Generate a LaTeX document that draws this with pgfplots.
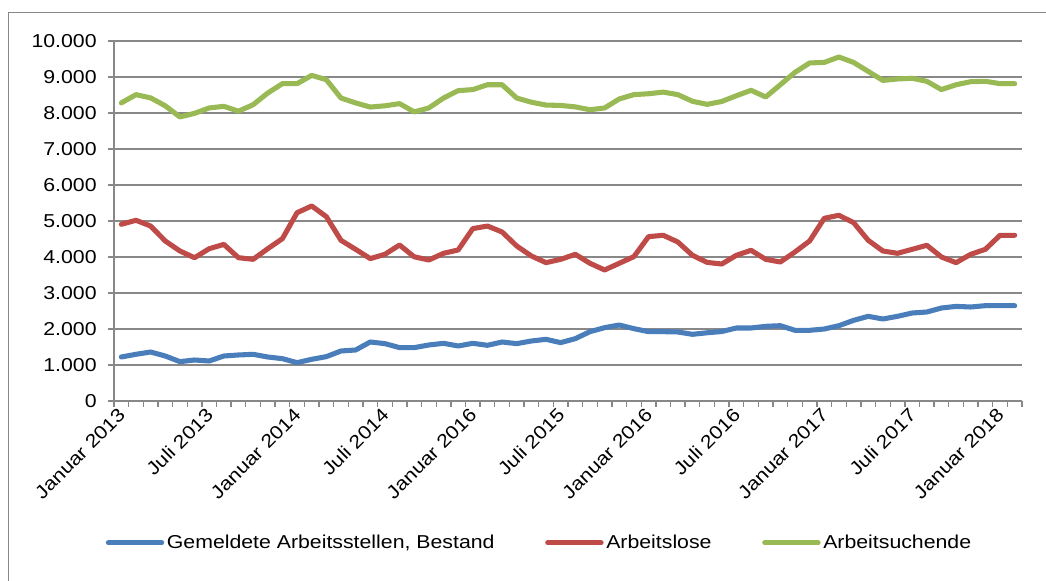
\documentclass[border=0pt]{standalone}
\usepackage{fontspec}
\setmainfont{Liberation Sans}[FakeStretch=1.14]
\usepackage{pgfplots}
\usepackage{pgfplotstable}
\pgfplotsset{compat=1.18}
\definecolor{cblue}{HTML}{4A7EBB}
\definecolor{cred}{HTML}{BE4B48}
\definecolor{cgreen}{HTML}{98B954}
\definecolor{cgrid}{HTML}{888888}
\pgfplotstableread{
i blue red green
0 1222 4908 8280
1 1297 5020 8510
2 1361 4860 8420
3 1250 4445 8200
4 1093 4167 7890
5 1139 3980 7990
6 1111 4230 8140
7 1250 4350 8185
8 1278 3980 8050
9 1297 3935 8230
10 1222 4230 8555
11 1176 4510 8815
12 1065 5230 8815
13 1158 5417 9045
14 1232 5120 8925
15 1389 4463 8415
16 1417 4213 8280
17 1639 3955 8165
18 1593 4075 8200
19 1482 4333 8260
20 1482 4005 8030
21 1556 3917 8140
22 1602 4102 8415
23 1528 4195 8620
24 1602 4788 8650
25 1547 4860 8785
26 1639 4695 8785
27 1593 4305 8415
28 1667 4028 8300
29 1713 3843 8220
30 1621 3935 8210
31 1732 4075 8170
32 1926 3825 8090
33 2037 3640 8140
34 2111 3825 8390
35 2009 4010 8510
36 1926 4565 8535
37 1926 4603 8580
38 1917 4417 8510
39 1852 4047 8325
40 1895 3850 8240
41 1930 3805 8320
42 2028 4047 8480
43 2028 4186 8630
44 2074 3935 8445
45 2092 3861 8785
46 1963 4140 9130
47 1963 4445 9390
48 2000 5075 9405
49 2092 5158 9555
50 2240 4955 9405
51 2352 4463 9155
52 2278 4167 8905
53 2352 4102 8945
54 2444 4213 8965
55 2472 4325 8880
56 2583 4000 8650
57 2628 3843 8785
58 2611 4075 8870
59 2648 4213 8880
60 2648 4603 8815
61 2648 4603 8815
}\datatable
\begin{document}
\begin{tikzpicture}
\useasboundingbox (0,0) rectangle (784.5pt,435.75pt);
\draw[cgrid, line width=1.1pt] (6.2pt,0pt) -- (6.2pt,426.2pt) -- (790pt,426.2pt);
\begin{axis}[
  at={(85.5pt,135pt)}, anchor=south west,
  scale only axis, width=681pt, height=270pt,
  xmin=-0.5, xmax=61.5, ymin=0, ymax=10000,
  axis x line*=bottom, axis y line*=left,
  axis line style={cgrid, line width=1.1pt},
  tick align=outside,
  major tick length=4.5pt,
  tick style={cgrid, line width=1pt},
  xtick={-0.5,0.5,...,61.5},
  xticklabel={\mbox{}},
  extra x ticks={0,6,...,60},
  extra x tick labels={Januar 2013,Juli 2013,Januar 2014,Juli 2014,Januar 2016,Juli 2015,Januar 2016,Juli 2016,Januar 2017,Juli 2017,Januar 2018},
  extra x tick style={major tick length=0pt, xticklabel style={xshift=0.5pt, yshift=-8pt, rotate=45, anchor=east, inner sep=0pt}},
  ytick={0,1000,...,10000},
  scaled y ticks=false,
  yticklabel style={/pgf/number format/.cd, fixed, 1000 sep={.}, assume math mode=true, /tikz/.cd, xshift=-5pt},
  ymajorgrids,
  major grid style={cgrid, line width=1pt},
  tick label style={font=\fontsize{14pt}{16pt}\selectfont, text=black},
  legend columns=3,
  legend style={at={(0.469,-0.394)}, anchor=center, draw=none, fill=none,
    font=\fontsize{14pt}{16pt}\selectfont,
    /tikz/every even column/.append style={column sep=36pt}},
  legend image code/.code={\draw[#1] (0pt,0pt) -- (40pt,0pt);},
  every axis plot/.append style={no marks, line width=3.8pt, line join=round, line cap=round},
]
\addplot[cblue] table[x=i, y=blue] {\datatable};
\addlegendentry{Gemeldete Arbeitsstellen, Bestand}
\addplot[cred] table[x=i, y=red] {\datatable};
\addlegendentry{Arbeitslose}
\addplot[cgreen] table[x=i, y=green] {\datatable};
\addlegendentry{Arbeitsuchende}
\end{axis}
\end{tikzpicture}
\end{document}
